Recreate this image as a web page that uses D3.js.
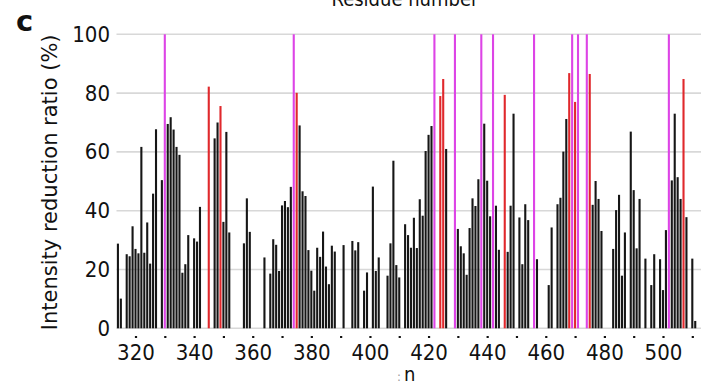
<!DOCTYPE html>
<html>
<head>
<meta charset="utf-8">
<script src="https://cdn.jsdelivr.net/npm/d3@7"></script>
<style>
  html, body { margin: 0; padding: 0; background: #fff; }
  svg { display: block; }
  text { font-family: "DejaVu Sans Condensed", "DejaVu Sans", sans-serif; fill: #111; }
</style>
</head>
<body>
<svg id="chart" width="701" height="383"></svg>
<script>
// Observed residues (black bars)
const residues = [314, 315, 317, 318, 319, 320, 321, 322, 323, 324, 325, 326, 327, 329,
  331, 332, 333, 334, 335, 336, 337, 338, 340, 341, 342, 347, 348, 350, 351, 352,
  357, 358, 359, 364, 366, 367, 368, 369, 370, 371, 372, 373, 376, 377, 378, 379,
  380, 381, 382, 383, 384, 385, 386, 387, 388, 391, 394, 395, 396, 398, 399, 401,
  402, 403, 406, 407, 408, 409, 410, 412, 413, 414, 415, 416, 417, 418, 419, 420,
  421, 426, 430, 431, 432, 433, 434, 435, 436, 437, 439, 440, 441, 443, 444, 447,
  448, 449, 451, 452, 453, 454, 457, 461, 462, 464, 465, 466, 467, 476, 477, 478,
  479, 483, 484, 485, 486, 487, 489, 490, 491, 492, 494, 496, 497, 499, 500, 501,
  503, 504, 505, 506, 508, 510, 511];
const ratios = [28.8, 10.1, 25.2, 24.5, 34.7, 27, 25.5, 61.7, 25.7, 36, 22, 45.8, 67.7, 50.4,
  69.5, 71.8, 67.6, 61.7, 59, 18.9, 21.8, 31.7, 30.6, 29.5, 41.3, 64.6, 70, 36.2, 66.8, 32.6,
  28.9, 44.2, 32.8, 24.1, 18.6, 30.3, 28.4, 19.5, 41.8, 43.3, 41.2, 48.1, 69, 46.6, 45, 26.6,
  19.6, 12.8, 27.4, 24.3, 32.9, 21, 15, 28.1, 26.1, 28.3, 29.7, 26.5, 29.3, 12.8, 19, 48.2,
  19.5, 24.1, 17.9, 28.9, 57, 21.5, 17.3, 35.4, 31.7, 27.4, 37.6, 27.3, 43.9, 38.3, 60.3, 65.8,
  68.8, 61, 33.8, 27.9, 25.5, 18.2, 34.1, 44.2, 41.6, 50.7, 69.6, 50.2, 38.1, 41.7, 26.7, 26,
  41.7, 73, 37.7, 21.8, 42.2, 36.8, 23.5, 14.7, 34.3, 42.2, 44.4, 60.1, 71.2, 42, 50.1, 44,
  33.1, 27, 40.2, 45.4, 17.9, 32.6, 66.9, 47, 27.2, 44, 23.7, 14.7, 25.2, 23.5, 13, 33.4,
  50.3, 73, 51.4, 44, 37.8, 23.7, 2.5];

// Strongly affected residues (red bars)
const redResidues = [345, 349, 375, 424, 425, 446, 468, 470, 475, 507];
const redRatios = [82.2, 75.6, 80.1, 79, 84.8, 79.4, 86.8, 77, 86.5, 84.8];

// Residues whose signals disappear (magenta, full height)
const lostResidues = [330, 374, 422, 429, 438, 442, 456, 469, 471, 474, 502];
const lostRatios = [100, 100, 100, 100, 100, 100, 100, 100, 100, 100, 100];

const yTicks = [0, 20, 40, 60, 80, 100];
const xTickMarks = d3.range(320, 511, 10);
const xTickLabels = [320, 340, 360, 380, 400, 420, 440, 460, 480, 500];

const svg = d3.select("#chart");

const x = d3.scaleLinear().domain([320, 500]).range([135.5, 663]);
const y = d3.scaleLinear().domain([0, 100]).range([328.3, 34.3]);
const barW = 2.1;

// Panel letter
svg.append("text").attr("x", 16).attr("y", 31)
  .attr("font-size", 29).attr("font-weight", "bold")
  .style("font-family", "'DejaVu Sans', sans-serif")
  .text("c");

// Axis title above the plot (partly cut by the frame)
svg.append("text").attr("x", 405).attr("y", 6)
  .attr("text-anchor", "middle").attr("font-size", 20)
  .text("Residue number");

// Gridlines
svg.append("g").selectAll("line").data(yTicks).join("line")
  .attr("x1", 116.5).attr("x2", 701)
  .attr("y1", d => y(d)).attr("y2", d => y(d))
  .attr("stroke", "#d8d8d8").attr("stroke-width", 1.6);

// Y axis labels
const yAxis = d3.axisLeft(y).tickValues(yTicks).tickSize(0).tickPadding(0);
const gy = svg.append("g").attr("transform", "translate(110,0)").call(yAxis);
gy.select(".domain").remove();
gy.selectAll("text").attr("font-size", 22).style("font-family", null).attr("fill", "#111");

// Y axis title
svg.append("text")
  .attr("transform", `translate(57,${(y(0) + y(100)) / 2 + 1}) rotate(-90)`)
  .attr("text-anchor", "middle").attr("font-size", 21)
  .style("font-family", "'DejaVu Sans', sans-serif")
  .text("Intensity reduction ratio (%)");

// X axis: dot marks every 10 residues, labels every 20
const xAxis = d3.axisBottom(x).tickValues(xTickMarks).tickSizeInner(2).tickSizeOuter(0)
  .tickPadding(6)
  .tickFormat(d => xTickLabels.includes(d) ? d : "");
const gx = svg.append("g").attr("transform", "translate(0,336)").call(xAxis);
gx.select(".domain").remove();
gx.selectAll(".tick line").attr("stroke", "#111").attr("stroke-width", 2.2);
gx.selectAll("text").attr("font-size", 22).style("font-family", null).attr("fill", "#111");

// Bars
const black = residues.map((r, i) => ({ r, v: ratios[i] }));
const red = redResidues.map((r, i) => ({ r, v: redRatios[i] }));
const lost = lostResidues.map((r, i) => ({ r, v: lostRatios[i] }));

function drawBars(data, color, w) {
  svg.append("g").selectAll("rect").data(data).join("rect")
    .attr("x", d => x(d.r) - w / 2)
    .attr("width", w)
    .attr("y", d => y(d.v))
    .attr("height", d => y(0) - y(d.v))
    .attr("fill", color);
}
drawBars(black, "#161616", barW);
drawBars(red, "#e0282c", barW);
drawBars(lost, "#dd44e6", barW);

// Fragment of text below the axis
const frag = svg.append("text").attr("x", 397).attr("y", 381).attr("font-size", 20);
frag.append("tspan").attr("fill", "#999").attr("font-size", 13).text(":");
frag.append("tspan").attr("dx", 3).text("n");
</script>
</body>
</html>
